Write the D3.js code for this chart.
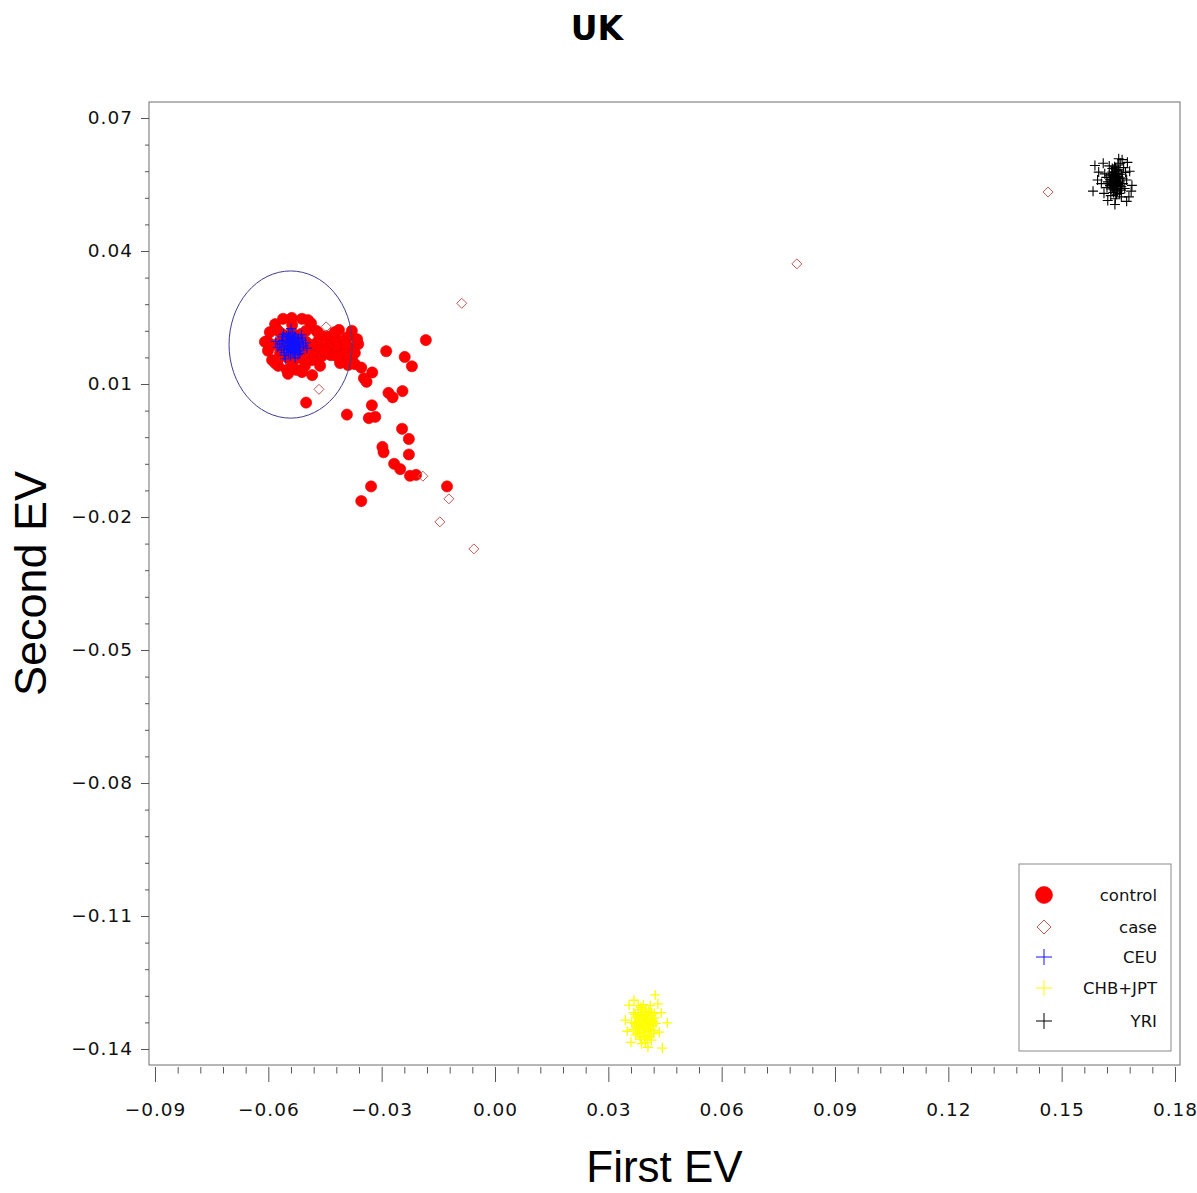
<!DOCTYPE html>
<html>
<head>
<meta charset="utf-8">
<script src="https://cdn.jsdelivr.net/npm/d3@7"></script>
<style>
  body { margin: 0; background: #fff; }
  svg { display: block; }
</style>
</head>
<body>
<svg id="chart" width="1197" height="1193"></svg>
<script>
// ---- data: first and second eigenvector scores ----
const controlPts = [
  // main cluster
  [-0.0538,0.0249],[-0.0511,0.0247],[-0.0487,0.0237],[-0.0473,0.0220],[-0.0468,0.0197],
  [-0.0473,0.0175],[-0.0484,0.0154],[-0.0503,0.0141],[-0.0526,0.0132],[-0.0551,0.0132],
  [-0.0574,0.0141],[-0.0590,0.0154],[-0.0601,0.0175],[-0.0603,0.0197],[-0.0596,0.0217],
  [-0.0582,0.0235],[-0.0561,0.0247],
  [-0.0538,0.0217],[-0.0513,0.0213],[-0.0500,0.0195],[-0.0503,0.0172],[-0.0521,0.0159],
  [-0.0548,0.0159],[-0.0569,0.0170],[-0.0574,0.0192],[-0.0564,0.0213],[-0.0538,0.0188],
  [-0.0520,0.0190],[-0.0555,0.0200],[-0.0548,0.0123],[-0.0495,0.0244],[-0.0582,0.0147],
  [-0.0609,0.0195],
  [-0.0519,0.0188],[-0.0537,0.0204],[-0.0556,0.0188],[-0.0537,0.0172],[-0.0484,0.0188],
  [-0.0500,0.0220],[-0.0537,0.0233],[-0.0574,0.0220],[-0.0590,0.0188],[-0.0574,0.0156],
  [-0.0537,0.0143],[-0.0500,0.0156],
  // tail to the right of the main cluster
  [-0.0379,0.0220],[-0.0362,0.0190],[-0.0379,0.0156],[-0.0392,0.0205],[-0.0410,0.0197],
  [-0.0429,0.0201],[-0.0447,0.0208],[-0.0468,0.0215],[-0.0384,0.0181],[-0.0402,0.0172],
  [-0.0421,0.0183],[-0.0442,0.0186],[-0.0463,0.0177],[-0.0479,0.0163],[-0.0458,0.0163],
  [-0.0434,0.0165],[-0.0392,0.0158],[-0.0371,0.0170],[-0.0389,0.0143],[-0.0410,0.0147],
  [-0.0463,0.0141],[-0.0484,0.0120],[-0.0511,0.0127],[-0.0413,0.0222],[-0.0394,0.0190],
  [-0.0365,0.0201],[-0.0424,0.0217],[-0.0450,0.0174],[-0.0416,0.0161],[-0.0371,0.0145],
  // scattered individuals
  [-0.0183,0.0199],[-0.0288,0.0174],[-0.0239,0.0161],[-0.0220,0.0140],[-0.0354,0.0137],
  [-0.0325,0.0126],[-0.0347,0.0113],[-0.0340,0.0105],[-0.0282,0.0080],[-0.0271,0.0070],
  [-0.0245,0.0084],[-0.0326,0.0052],[-0.0392,0.0031],[-0.0334,0.0023],[-0.0317,0.0026],
  [-0.0246,-0.0001],[-0.0228,-0.0024],[-0.0298,-0.0042],[-0.0295,-0.0054],[-0.0228,-0.0059],
  [-0.0267,-0.0080],[-0.0251,-0.0092],[-0.0225,-0.0107],[-0.0209,-0.0105],[-0.0127,-0.0131],
  [-0.0328,-0.0131],[-0.0354,-0.0164],[-0.0500,0.0058]
];

const casePts = [
  [-0.0447,0.0229],[-0.0466,0.0088],[-0.0088,0.0282],[0.0799,0.0371],[0.1464,0.0533],
  [-0.0191,-0.0108],[-0.0122,-0.0159],[-0.0146,-0.0211],[-0.0056,-0.0272]
];

const ceuPts = [
  [-0.0538,0.0188],[-0.0530,0.0195],[-0.0545,0.0180],[-0.0550,0.0192],[-0.0525,0.0183],
  [-0.0541,0.0201],[-0.0533,0.0172],[-0.0556,0.0185],[-0.0519,0.0190],[-0.0547,0.0170],
  [-0.0528,0.0206],[-0.0561,0.0198],[-0.0515,0.0176],[-0.0536,0.0213],[-0.0552,0.0208],
  [-0.0566,0.0177],[-0.0510,0.0199],[-0.0542,0.0163],[-0.0522,0.0166],[-0.0570,0.0190],
  [-0.0507,0.0186],[-0.0558,0.0165],[-0.0531,0.0190],[-0.0544,0.0194],[-0.0539,0.0179],
  [-0.0527,0.0178],[-0.0549,0.0186],[-0.0535,0.0199],[-0.0520,0.0203],[-0.0563,0.0206],
  [-0.0502,0.0193],[-0.0575,0.0183],[-0.0546,0.0215],[-0.0529,0.0159],[-0.0512,0.0211],
  [-0.0555,0.0157],[-0.0540,0.0225],[-0.0580,0.0196],[-0.0498,0.0181],[-0.0533,0.0185],
  [-0.0551,0.0175],[-0.0524,0.0193],[-0.0543,0.0205],[-0.0560,0.0212],[-0.0517,0.0169],
  [-0.0536,0.0192],[-0.0540,0.0184],[-0.0532,0.0180],[-0.0544,0.0198],[-0.0527,0.0190],
  [-0.0549,0.0182],[-0.0534,0.0202],[-0.0541,0.0174],[-0.0523,0.0197],[-0.0553,0.0195],
  [-0.0530,0.0168],[-0.0546,0.0208],[-0.0518,0.0182],[-0.0559,0.0178],[-0.0537,0.0196],
  [-0.0543,0.0187],[-0.0529,0.0186],[-0.0548,0.0200],[-0.0535,0.0176],[-0.0521,0.0174],
  [-0.0565,0.0192],[-0.0513,0.0204],[-0.0557,0.0171],[-0.0531,0.0209]
];

const chbJptPts = [
  [0.0394,-0.1339],[0.0388,-0.1332],[0.0400,-0.1345],[0.0384,-0.1348],[0.0405,-0.1330],
  [0.0397,-0.1322],[0.0379,-0.1338],[0.0410,-0.1342],[0.0391,-0.1356],[0.0403,-0.1360],
  [0.0386,-0.1318],[0.0414,-0.1325],[0.0376,-0.1352],[0.0399,-0.1310],[0.0412,-0.1355],
  [0.0382,-0.1365],[0.0395,-0.1370],[0.0407,-0.1315],[0.0389,-0.1344],[0.0401,-0.1336],
  [0.0373,-0.1328],[0.0418,-0.1338],[0.0392,-0.1326],[0.0408,-0.1368],[0.0380,-0.1312],
  [0.0396,-0.1350],[0.0385,-0.1378],[0.0416,-0.1348],[0.0370,-0.1342],[0.0403,-0.1378],
  [0.0390,-0.1340],[0.0398,-0.1333],[0.0383,-0.1342],[0.0406,-0.1349],[0.0392,-0.1352],
  [0.0387,-0.1325],[0.0402,-0.1323],[0.0412,-0.1333],[0.0378,-0.1330],[0.0409,-0.1358],
  [0.0395,-0.1362],[0.0381,-0.1356],[0.0419,-0.1346],[0.0374,-0.1346],[0.0400,-0.1316],
  [0.0389,-0.1310],[0.0415,-0.1318],[0.0371,-0.1322],[0.0397,-0.1373],[0.0410,-0.1372],
  [0.0384,-0.1372],[0.0423,-0.1330],[0.0366,-0.1356],[0.0404,-0.1341],[0.0393,-0.1345],
  [0.0420,-0.1358],[0.0377,-0.1362],[0.0386,-0.1306],
  [0.0422,-0.1320],[0.0367,-0.1318],[0.0420,-0.1365],[0.0372,-0.1368],[0.0393,-0.1300],
  [0.0411,-0.1302],[0.0398,-0.1385],[0.0379,-0.1302],[0.0426,-0.1342],[0.0362,-0.1340],
  [0.0388,-0.1388],[0.0414,-0.1380],
  [0.0424,-0.1278],[0.0443,-0.1398],[0.0355,-0.1301],[0.0456,-0.1341],[0.0345,-0.1335],
  [0.0431,-0.1298],[0.0435,-0.1362],[0.0350,-0.1360],[0.0440,-0.1318],[0.0360,-0.1385],
  [0.0405,-0.1396],[0.0368,-0.1290]
];

const yriPts = [
  [0.1641,0.0560],[0.1636,0.0566],[0.1647,0.0553],[0.1633,0.0550],[0.1650,0.0568],
  [0.1644,0.0575],[0.1629,0.0561],[0.1655,0.0558],[0.1639,0.0545],[0.1646,0.0540],
  [0.1652,0.0547],[0.1634,0.0578],[0.1626,0.0571],[0.1659,0.0573],[0.1643,0.0584],
  [0.1631,0.0540],[0.1657,0.0537],[0.1648,0.0563],[0.1638,0.0555],[0.1637,0.0532],
  [0.1651,0.0580],[0.1622,0.0556],[0.1662,0.0552],[0.1645,0.0528],[0.1640,0.0590],
  [0.1628,0.0548],[0.1653,0.0530],[0.1661,0.0563],[0.1634,0.0586],[0.1649,0.0594],
  [0.1640,0.0562],[0.1645,0.0557],[0.1637,0.0570],[0.1649,0.0550],[0.1632,0.0556],
  [0.1654,0.0565],[0.1642,0.0548],[0.1635,0.0543],[0.1650,0.0574],[0.1646,0.0581],
  [0.1630,0.0566],[0.1658,0.0545],[0.1641,0.0537],[0.1639,0.0578],[0.1653,0.0555],
  [0.1627,0.0552],[0.1644,0.0569],[0.1636,0.0560],[0.1648,0.0535],[0.1633,0.0573],
  [0.1656,0.0540],[0.1643,0.0588],[0.1629,0.0544],[0.1651,0.0583],
  [0.1618,0.0566],[0.1667,0.0541],[0.1620,0.0543],[0.1669,0.0577],[0.1630,0.0525],
  [0.1658,0.0522],[0.1655,0.0598],[0.1626,0.0592],[0.1614,0.0574],[0.1672,0.0560],
  [0.1642,0.0518],[0.1664,0.0588],
  [0.1588,0.0593],[0.1583,0.0535],[0.1660,0.0606],[0.1674,0.0600],[0.1680,0.0580],
  [0.1684,0.0535],[0.1641,0.0505],[0.1672,0.0512],[0.1605,0.0552],[0.1598,0.0578],
  [0.1610,0.0598],[0.1686,0.0548],[0.1678,0.0522],[0.1612,0.0530],[0.1651,0.0608],
  [0.1595,0.0560],[0.1622,0.0514]
];

// ring drawn around the CEU reference group (centre and radii in EV units)
const ceuRing = { cx: -0.0541, cy: 0.0189, rx: 0.0163, ry: 0.0166 };

const xTicks = [-0.09, -0.06, -0.03, 0.00, 0.03, 0.06, 0.09, 0.12, 0.15, 0.18];
const yTicks = [0.07, 0.04, 0.01, -0.02, -0.05, -0.08, -0.11, -0.14];
const legendLabels = ["control", "case", "CEU", "CHB+JPT", "YRI"];

// ---- layout ----
const svg = d3.select("#chart");
const x = d3.scaleLinear().domain([-0.09, 0.18]).range([155, 1175]);
const y = d3.scaleLinear().domain([-0.14, 0.07]).range([1049, 118]);
const frame = { left: 149, right: 1180, top: 102, bottom: 1065 };

const tickFont = "'DejaVu Sans', sans-serif";
const fmt = d3.format(".2f");

function minorBetween(ticks) {
  const out = [];
  const s = ticks.slice().sort((a, b) => a - b);
  for (let i = 0; i < s.length - 1; i++) {
    for (let k = 1; k < 5; k++) out.push(s[i] + (s[i + 1] - s[i]) * k / 5);
  }
  return out;
}

// title
svg.append("text")
  .attr("x", 597).attr("y", 40)
  .attr("text-anchor", "middle")
  .style("font-family", "'DejaVu Sans', sans-serif")
  .style("font-weight", "bold")
  .style("font-size", "33px")
  .text("UK");

// plot frame
svg.append("rect")
  .attr("x", frame.left).attr("y", frame.top)
  .attr("width", frame.right - frame.left)
  .attr("height", frame.bottom - frame.top)
  .attr("fill", "none").attr("stroke", "#6f6f6f").attr("stroke-width", 1);

function styleAxis(g) {
  g.select(".domain").remove();
  g.attr("font-size", null).attr("font-family", null);
  g.selectAll(".tick line").attr("stroke", "#555");
  g.selectAll(".tick text")
    .style("font-family", tickFont)
    .style("font-size", "18.5px")
    .style("letter-spacing", "1px")
    .attr("fill", "#111");
}

// x axis
svg.append("g")
  .attr("transform", `translate(0,${frame.bottom + 2})`)
  .call(d3.axisBottom(x).tickValues(xTicks).tickSize(15).tickPadding(21).tickFormat(fmt))
  .call(styleAxis);
svg.append("g")
  .attr("transform", `translate(0,${frame.bottom + 2})`)
  .call(d3.axisBottom(x).tickValues(minorBetween(xTicks)).tickSize(6.5).tickFormat(""))
  .call(styleAxis);

// y axis
svg.append("g")
  .attr("transform", `translate(${frame.left},0)`)
  .call(d3.axisLeft(y).tickValues(yTicks).tickSize(8).tickPadding(8).tickFormat(fmt))
  .call(styleAxis);
svg.append("g")
  .attr("transform", `translate(${frame.left},0)`)
  .call(d3.axisLeft(y).tickValues(minorBetween(yTicks)).tickSize(4).tickFormat(""))
  .call(styleAxis);

// axis titles
svg.append("text")
  .attr("x", (frame.left + frame.right) / 2).attr("y", 1182)
  .attr("text-anchor", "middle")
  .style("font-family", "'Liberation Sans', Arial, sans-serif")
  .style("font-size", "44px")
  .text("First EV");
svg.append("text")
  .attr("transform", `translate(46,${(frame.top + frame.bottom) / 2}) rotate(-90)`)
  .attr("text-anchor", "middle")
  .style("font-family", "'Liberation Sans', Arial, sans-serif")
  .style("font-size", "45px")
  .text("Second EV");

// ---- marks ----
const plusPath = (cx, cy, h) => `M${cx - h},${cy}H${cx + h}M${cx},${cy - h}V${cy + h}`;
const diamondPath = (cx, cy, h) => `M${cx},${cy - h}L${cx + h},${cy}L${cx},${cy + h}L${cx - h},${cy}Z`;

const styles = {
  control: { fill: "#ff0000", stroke: "#e60000" },
  case: { stroke: "#bf5a55" },
  CEU: { stroke: "#1010ff" },
  "CHB+JPT": { stroke: "#ffff00" },
  YRI: { stroke: "#000000" }
};

const marks = svg.append("g");

marks.append("g").selectAll("circle").data(controlPts).join("circle")
  .attr("cx", d => x(d[0])).attr("cy", d => y(d[1])).attr("r", 5.6)
  .attr("fill", styles.control.fill).attr("stroke", styles.control.stroke).attr("stroke-width", 0.6);

marks.append("g").selectAll("path").data(casePts).join("path")
  .attr("d", d => diamondPath(x(d[0]), y(d[1]), 5))
  .attr("fill", "none").attr("stroke", styles.case.stroke).attr("stroke-width", 1);

function crosses(pts, color, w) {
  marks.append("g").selectAll("path").data(pts).join("path")
    .attr("d", d => plusPath(x(d[0]), y(d[1]), 5))
    .attr("fill", "none").attr("stroke", color).attr("stroke-width", w);
}
crosses(ceuPts, styles.CEU.stroke, 1.1);
crosses(chbJptPts, styles["CHB+JPT"].stroke, 1.3);
crosses(yriPts, styles.YRI.stroke, 1.1);

// ring around the CEU group
svg.append("ellipse")
  .attr("cx", x(ceuRing.cx)).attr("cy", y(ceuRing.cy))
  .attr("rx", x(ceuRing.cx + ceuRing.rx) - x(ceuRing.cx))
  .attr("ry", y(ceuRing.cy) - y(ceuRing.cy + ceuRing.ry))
  .attr("fill", "none").attr("stroke", "#3d3d8f").attr("stroke-width", 1);

// ---- legend ----
const legend = svg.append("g");
legend.append("rect")
  .attr("x", 1019).attr("y", 864).attr("width", 152).attr("height", 187)
  .attr("fill", "#fff").attr("stroke", "#8a8a8a").attr("stroke-width", 1);

const legendY = [895, 927, 957, 988, 1021];
const symX = 1044;
legendLabels.forEach((lab, i) => {
  const cy = legendY[i];
  if (lab === "control") {
    legend.append("circle").attr("cx", symX).attr("cy", cy).attr("r", 8.5)
      .attr("fill", styles.control.fill).attr("stroke", styles.control.stroke).attr("stroke-width", 0.6);
  } else if (lab === "case") {
    legend.append("path").attr("d", diamondPath(symX, cy, 7))
      .attr("fill", "none").attr("stroke", styles.case.stroke).attr("stroke-width", 1);
  } else {
    legend.append("path").attr("d", plusPath(symX, cy, 8))
      .attr("fill", "none").attr("stroke", styles[lab].stroke).attr("stroke-width", 1);
  }
  legend.append("text")
    .attr("x", 1157).attr("y", cy + 6)
    .attr("text-anchor", "end")
    .style("font-family", tickFont)
    .style("font-size", "16.5px")
    .attr("fill", "#111")
    .text(lab);
});
</script>
</body>
</html>
